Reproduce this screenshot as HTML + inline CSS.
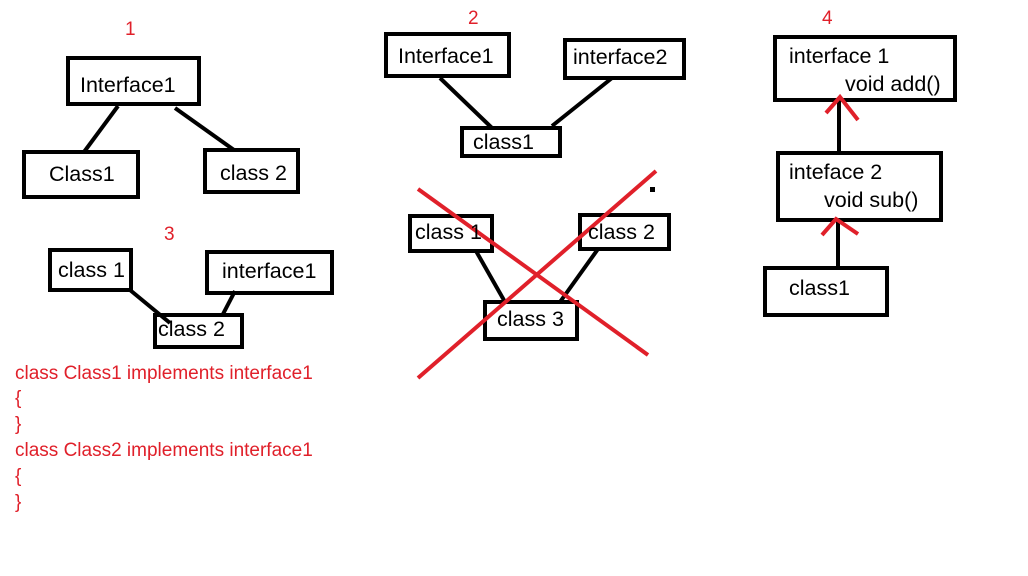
<!DOCTYPE html>
<html><head><style>
body{margin:0;background:#fff;}
svg text{font-family:"Liberation Sans",sans-serif;font-size:19px;}
.b text{font-size:21.5px;}
</style></head><body>
<svg width="1028" height="571" viewBox="0 0 1028 571" xmlns="http://www.w3.org/2000/svg">
<g fill="none" stroke="#000" stroke-width="4">
<rect x="68" y="58" width="131" height="46"/>
<rect x="24" y="152" width="114" height="45"/>
<rect x="205" y="150" width="93" height="42"/>
<line x1="118" y1="106" x2="84" y2="152"/>
<line x1="175" y1="108" x2="234" y2="150"/>
<rect x="50" y="250" width="81" height="40"/>
<rect x="207" y="252" width="125" height="41"/>
<rect x="155" y="315" width="87" height="32"/>
<line x1="130" y1="290" x2="170" y2="323"/>
<line x1="235" y1="291" x2="222" y2="316"/>
<rect x="386" y="34" width="123" height="42"/>
<rect x="565" y="40" width="119" height="38"/>
<rect x="462" y="128" width="98" height="28"/>
<line x1="440" y1="78" x2="492" y2="128"/>
<line x1="612" y1="78" x2="552" y2="126"/>
<rect x="410" y="216" width="82" height="35"/>
<rect x="580" y="215" width="89" height="34"/>
<rect x="485" y="302" width="92" height="37"/>
<line x1="476" y1="251" x2="505" y2="302"/>
<line x1="598" y1="249" x2="560" y2="302"/>
<rect x="775" y="37" width="180" height="63"/>
<rect x="778" y="153" width="163" height="67"/>
<rect x="765" y="268" width="122" height="47"/>
<line x1="839" y1="100" x2="839" y2="153"/>
<line x1="838" y1="220" x2="838" y2="268"/>
</g>
<rect x="650" y="187" width="5" height="5" fill="#000"/>
<g stroke="#e0202a" stroke-width="4" fill="none">
<line x1="418" y1="189" x2="648" y2="355"/>
<line x1="418" y1="378" x2="656" y2="171"/>
<polyline points="826,113 840,97 858,120"/>
<polyline points="822,235 836,219 858,234"/>
</g>
<g fill="#e0202a">
<text x="125" y="35">1</text><text x="468" y="24">2</text>
<text x="164" y="240">3</text><text x="822" y="24">4</text>
<g style="font-size:17px">
<text x="15" y="379">class Class1 implements interface1</text>
<text x="15" y="404">{</text><text x="15" y="430">}</text>
<text x="15" y="456">class Class2 implements interface1</text>
<text x="15" y="482">{</text><text x="15" y="508">}</text>
</g></g>
<g fill="#000" class="b">
<text x="80" y="92">Interface1</text>
<text x="49" y="181">Class1</text>
<text x="220" y="180">class 2</text>
<text x="58" y="277">class 1</text>
<text x="222" y="278">interface1</text>
<text x="158" y="336">class 2</text>
<text x="398" y="63">Interface1</text>
<text x="573" y="64">interface2</text>
<text x="473" y="149">class1</text>
<text x="415" y="239">class 1</text>
<text x="588" y="239">class 2</text>
<text x="497" y="326">class 3</text>
<text x="789" y="63">interface 1</text>
<text x="845" y="91">void add()</text>
<text x="789" y="179">inteface 2</text>
<text x="824" y="207">void sub()</text>
<text x="789" y="295">class1</text>
</g>
</svg>
</body></html>
